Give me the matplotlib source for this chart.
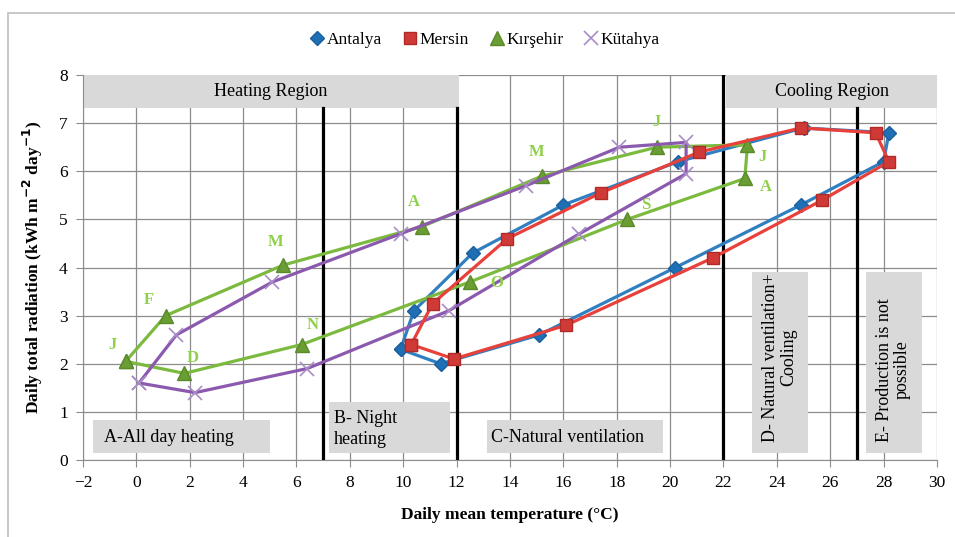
import matplotlib
matplotlib.use("Agg")
import matplotlib.pyplot as plt
from matplotlib.patches import Rectangle

plt.rcParams['font.family'] = ['Liberation Serif', 'DejaVu Serif']

months = ["J", "F", "M", "A", "M", "J", "J", "A", "S", "O", "N", "D"]

antalya_t = [9.9, 10.4, 12.6, 16.0, 20.3, 25.0, 28.2, 28.0, 24.9, 20.2, 15.1, 11.4]
antalya_r = [2.3, 3.1, 4.3, 5.3, 6.2, 6.9, 6.8, 6.2, 5.3, 4.0, 2.6, 2.0]

mersin_t = [10.3, 11.1, 13.9, 17.4, 21.1, 24.9, 27.7, 28.2, 25.7, 21.6, 16.1, 11.9]
mersin_r = [2.4, 3.25, 4.6, 5.55, 6.4, 6.9, 6.8, 6.2, 5.4, 4.2, 2.8, 2.1]

kirsehir_t = [-0.4, 1.1, 5.5, 10.7, 15.2, 19.5, 22.9, 22.8, 18.4, 12.5, 6.2, 1.8]
kirsehir_r = [2.05, 3.0, 4.05, 4.85, 5.9, 6.5, 6.55, 5.85, 5.0, 3.7, 2.4, 1.8]

kutahya_t = [0.1, 1.5, 5.1, 9.9, 14.6, 18.1, 20.6, 20.6, 16.6, 11.7, 6.4, 2.2]
kutahya_r = [1.6, 2.6, 3.7, 4.7, 5.7, 6.5, 6.6, 5.95, 4.7, 3.1, 1.9, 1.4]

# month label positions for Kırşehir
label_t = [-0.9, 0.45, 5.2, 10.4, 15.0, 19.5, 23.45, 23.6, 19.1, 13.5, 6.6, 2.1]
label_r = [2.4, 3.33, 4.53, 5.36, 6.4, 7.03, 6.3, 5.68, 5.3, 3.68, 2.8, 2.12]

boundaries = [7, 12, 22, 27]

fig = plt.figure(figsize=(9.55, 5.37), dpi=100)
# outer frame (left and top edges visible, continues past the image)
fig.patches.append(Rectangle((8 / 955, -0.05), 1.1, (537 - 13) / 537 + 0.05,
                             transform=fig.transFigure, fill=False,
                             edgecolor="#bfbfbf", linewidth=1.2))
ax = fig.add_axes([0.0869, 0.1434, 0.8942, 0.7169])
ax.set_xlim(-2, 30)
ax.set_ylim(0, 8)
ax.set_xticks(range(-2, 31, 2))
ax.set_yticks(range(0, 9))
ax.set_xticklabels([("\u2212" + str(-v)) if v < 0 else str(v) for v in range(-2, 31, 2)])
ax.grid(True, color="#8c8c8c", linewidth=0.9)
ax.set_axisbelow(True)
for s in ["top", "right"]:
    ax.spines[s].set_visible(False)
for s in ["left", "bottom"]:
    ax.spines[s].set_color("#8c8c8c")
ax.tick_params(colors="#8c8c8c", labelcolor="black", labelsize=12.5, length=5, pad=6)

gray = "#d9d9d9"
fs = 13
# region boxes
ax.add_patch(Rectangle((-2, 7.32), 14.1, 0.68, facecolor=gray, edgecolor="none", zorder=1))
ax.add_patch(Rectangle((22.1, 7.32), 7.9, 0.68, facecolor=gray, edgecolor="none", zorder=1))
ax.text(5.05, 7.66, "Heating Region", ha="center", va="center", fontsize=fs)
ax.text(26.05, 7.66, "Cooling Region", ha="center", va="center", fontsize=fs)

ax.add_patch(Rectangle((-1.63, 0.15), 6.63, 0.68, facecolor=gray, edgecolor="none", zorder=1))
ax.text(-1.2, 0.47, "A-All day heating", ha="left", va="center", fontsize=fs)
ax.add_patch(Rectangle((7.22, 0.15), 4.53, 1.05, facecolor=gray, edgecolor="none", zorder=1))
ax.text(7.4, 0.65, "B- Night\nheating", ha="left", va="center", fontsize=fs, linespacing=1.3)
ax.add_patch(Rectangle((13.14, 0.15), 6.59, 0.68, facecolor=gray, edgecolor="none", zorder=1))
ax.text(13.3, 0.47, "C-Natural ventilation", ha="left", va="center", fontsize=fs)
ax.add_patch(Rectangle((23.07, 0.15), 2.09, 3.75, facecolor=gray, edgecolor="none", zorder=1))
ax.text(24.1, 0.38, "D- Natural ventilation+\nCooling", ha="center", va="bottom",
        rotation=90, fontsize=fs, linespacing=1.05)
ax.add_patch(Rectangle((27.34, 0.15), 2.09, 3.75, facecolor=gray, edgecolor="none", zorder=1))
ax.text(28.35, 0.38, "E- Production is not\npossible", ha="center", va="bottom",
        rotation=90, fontsize=fs, linespacing=1.05)

for b in boundaries:
    top = 8.0 if b == 22 else 7.32
    ax.plot([b, b], [0, top], color="black", linewidth=2.3, zorder=3)

def closed(a):
    return list(a) + [a[0]]

ax.plot(closed(antalya_t), closed(antalya_r), color="#2f7fc1", linewidth=2.3,
        marker="D", markersize=7.5, markerfacecolor="#1f6fb5", markeredgecolor="#1a5f9e",
        zorder=4, label="Antalya")
ax.plot(closed(mersin_t), closed(mersin_r), color="#e8413c", linewidth=2.3,
        marker="s", markersize=9, markerfacecolor="#d03a36", markeredgecolor="#b02a28",
        zorder=5, label="Mersin")
ax.plot(closed(kirsehir_t), closed(kirsehir_r), color="#7cba3f", linewidth=2.3,
        marker="^", markersize=10, markerfacecolor="#6a9d33", markeredgecolor="#5a8a2a",
        zorder=4, label="Kırşehir")
ax.plot(closed(kutahya_t), closed(kutahya_r), color="#8b5aae", linewidth=2.3,
        marker="x", markersize=10, markeredgecolor="#a98cc8", markeredgewidth=1.2,
        zorder=4, label="Kütahya")

for m, t, r in zip(months, label_t, label_r):
    ax.text(t, r, m, color="#8ed04a", fontsize=12, fontweight="bold",
            ha="center", va="center", zorder=6)

ax.set_xlabel("Daily mean temperature (°C)", fontsize=12.5, fontweight="bold", labelpad=11)
ax.set_ylabel("Daily total radiation (kWh m$^{\\mathbf{-2}}$ day$^{\\mathbf{-1}}$)",
              fontsize=12.5, fontweight="bold", labelpad=10)

h, l = ax.get_legend_handles_labels()
fig.legend(h, l, loc="center", bbox_to_anchor=(0.508, 0.925), ncol=4, frameon=False,
           fontsize=12.5, handlelength=0.8, handletextpad=0.15, columnspacing=1.2)
leg = fig.legends[0]
for line in leg.get_lines():
    line.set_linestyle("none")

fig.savefig("out.png", dpi=100)
